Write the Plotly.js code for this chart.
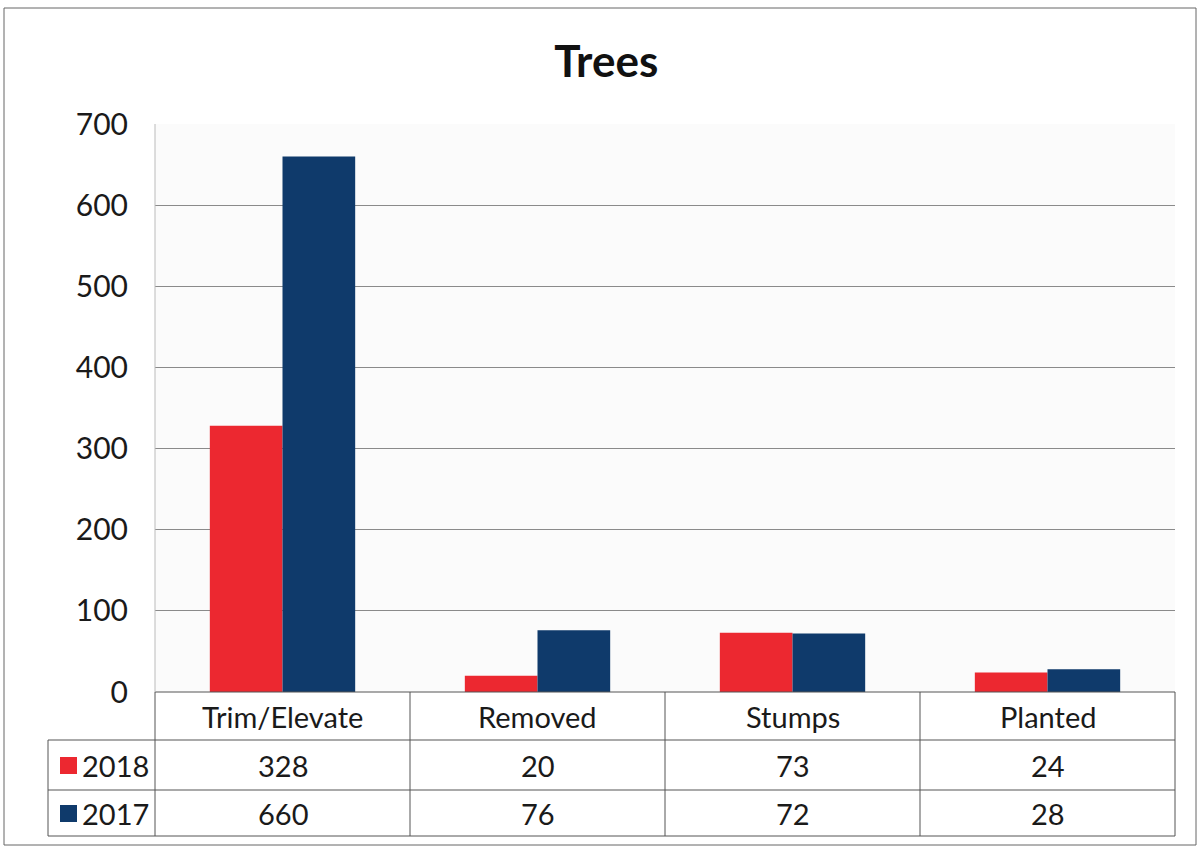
<!DOCTYPE html>
<html><head><meta charset="utf-8">
<script src="https://cdn.plot.ly/plotly-3.0.1.min.js"></script>
<style>body{margin:0;background:#fff}#c{width:1198px;height:846px}</style>
</head><body><div id="c"></div>
<script>
const categories = ["Trim/Elevate", "Removed", "Stumps", "Planted"];
const series2018 = [328, 20, 73, 24];
const series2017 = [660, 76, 72, 28];
const seriesNames = ["2018", "2017"];
const seriesColors = ["#ec2830", "#0f3a6b"];
const yTicks = [0, 100, 200, 300, 400, 500, 600, 700];

const W = 1198, H = 846, L = 155, R = 23, T = 124, B = 154;
const pw = W - L - R, ph = H - T - B;
const px = x => (x - L) / pw;          // pixel -> paper x
const py = y => (H - B - y) / ph;      // pixel -> paper y
const font = "Lato, 'Open Sans', 'Liberation Sans', sans-serif";
const lineCol = "#555";

const shapes = [];
const annotations = [];
const n = categories.length;
const colW = 1 / n;
const rowY = [692, 740, 790, 836];
// outer frame
shapes.push({type:"rect", xref:"paper", yref:"paper", x0:px(4), x1:px(1196), y0:py(8), y1:py(845), line:{color:"#666", width:1}});
// table horizontal lines
shapes.push({type:"line", xref:"paper", yref:"paper", x0:0, x1:1, y0:py(rowY[0]), y1:py(rowY[0]), line:{color:lineCol, width:1}});
for (let i = 1; i < rowY.length; i++) {
  shapes.push({type:"line", xref:"paper", yref:"paper", x0:px(48), x1:1, y0:py(rowY[i]), y1:py(rowY[i]), line:{color:lineCol, width:1}});
}
// vertical lines
for (let i = 0; i <= n; i++) {
  shapes.push({type:"line", xref:"paper", yref:"paper", x0:i*colW, x1:i*colW, y0:py(rowY[0]), y1:py(rowY[3]), line:{color:lineCol, width:1}});
}
shapes.push({type:"line", xref:"paper", yref:"paper", x0:px(48), x1:px(48), y0:py(rowY[1]), y1:py(rowY[3]), line:{color:lineCol, width:1}});

const rowsData = [series2018, series2017];
const textFont = {family: font, size: 29, color: "#1a1a1a"};
categories.forEach((c, i) => {
  annotations.push({xref:"paper", yref:"paper", x:(i+0.5)*colW, y:py((rowY[0]+rowY[1])/2), text:c, showarrow:false, font:textFont, xanchor:"center", yanchor:"middle"});
  rowsData.forEach((arr, r) => {
    annotations.push({xref:"paper", yref:"paper", x:(i+0.5)*colW, y:py((rowY[r+1]+rowY[r+2])/2), text:String(arr[i]), showarrow:false, font:textFont, xanchor:"center", yanchor:"middle"});
  });
});
seriesNames.forEach((s, r) => {
  const yc = (rowY[r+1] + rowY[r+2]) / 2;
  shapes.push({type:"rect", xref:"paper", yref:"paper", x0:px(60), x1:px(77), y0:py(yc-8), y1:py(yc+9), fillcolor:seriesColors[r], line:{width:0}});
  annotations.push({xref:"paper", yref:"paper", x:px(80), y:py(yc), text:s, showarrow:false, font:textFont, xanchor:"left", yanchor:"middle"});
});

const data = [
  {type:"bar", name:seriesNames[0], x:categories, y:series2018, marker:{color:seriesColors[0]}},
  {type:"bar", name:seriesNames[1], x:categories, y:series2017, marker:{color:seriesColors[1]}}
];
const layout = {
  width: W, height: H,
  margin: {l:L, r:R, t:T, b:B, pad:0},
  paper_bgcolor: "#fff", plot_bgcolor: "#fbfbfb",
  title: {text:"<b>Trees</b>", x:0.506, xanchor:"center", y:1-62/H, yanchor:"middle", font:{family:font, size:44, color:"#111"}},
  showlegend: false,
  barmode: "group", bargap: 0.43, bargroupgap: 0,
  xaxis: {type:"category", showticklabels:false, showgrid:false, zeroline:false, showline:false, ticks:""},
  yaxis: {range:[0,700], tickvals:yTicks, ticktext:yTicks.map(String), showgrid:true, gridcolor:"#8a8a8a", gridwidth:1, zeroline:false, showline:false, ticks:"", ticklabelstandoff:26, tickfont:{family:font, size:30, color:"#1a1a1a"}},
  shapes: shapes.concat([{type:"line", xref:"paper", yref:"paper", x0:0, x1:0, y0:0, y1:1, line:{color:"#bbb", width:1}}]),
  annotations: annotations
};
Plotly.newPlot("c", data, layout, {displayModeBar:false, staticPlot:true});
</script></body></html>
